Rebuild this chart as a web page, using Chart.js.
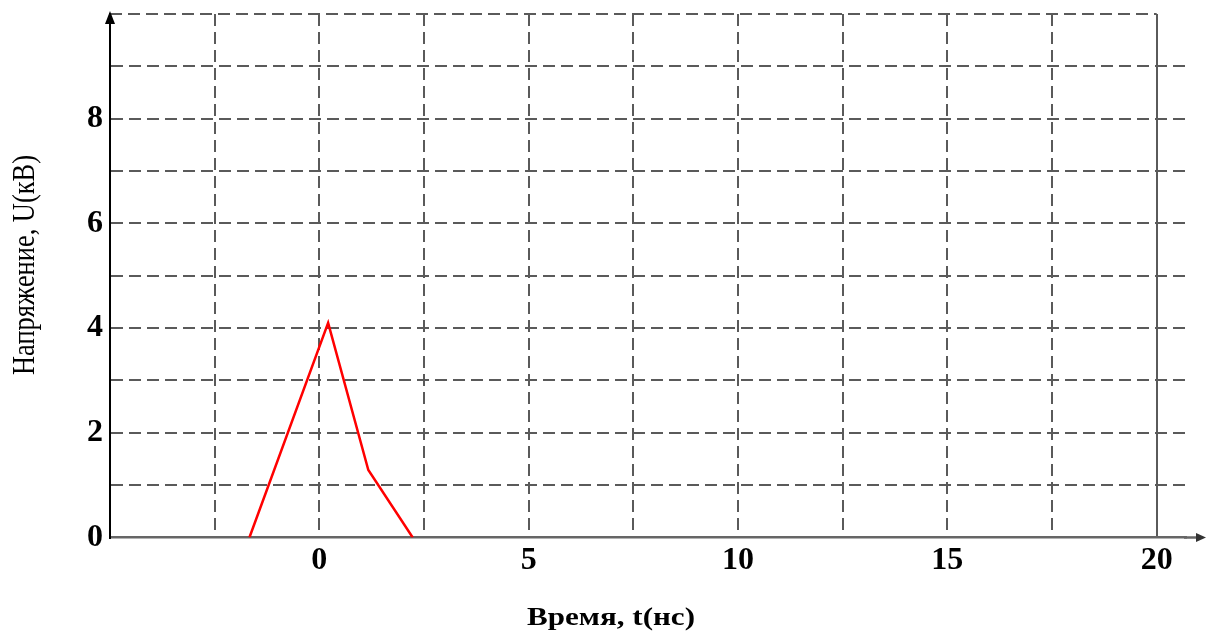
<!DOCTYPE html>
<html>
<head>
<meta charset="utf-8">
<script src="https://cdn.jsdelivr.net/npm/chart.js@4.4.1/dist/chart.umd.min.js"></script>
<style>
  html, body { margin: 0; padding: 0; background: #fff; }
  #wrap { width: 1206px; height: 639px; }
</style>
</head>
<body>
<div id="wrap"><canvas id="voltChart" width="1206" height="639"></canvas></div>
<script>
// pulse
const timeNs = [-1.67, 0.21, 1.17, 2.23];
const voltKV = [0, 4.1, 1.29, 0];

const xGrid = [-2.5, 0, 2.5, 5, 7.5, 10, 12.5, 15, 17.5, 20];
const xLabels = [0, 5, 10, 15, 20];
const yGrid = [0, 1, 2, 3, 4, 5, 6, 7, 8, 9, 10];
const yLabels = [0, 2, 4, 6, 8];

const xTitle = 'Время, t(нс)';
const yTitle = 'Напряжение, U(кВ)';

const gridGray = '#5a5a5a';
const dash = [12, 6];
const serif = '"Liberation Serif", "Times New Roman", serif';

// arrows on the axes, top grid line and axis titles
const axisExtras = {
    id: 'axisExtras',
    beforeDatasetsDraw(chart) {
        const { ctx, scales: { x, y } } = chart;
        const yTop = y.getPixelForValue(10);
        ctx.save();
        ctx.strokeStyle = gridGray;
        ctx.lineWidth = 2;
        ctx.setLineDash(dash);
        ctx.beginPath();
        ctx.moveTo(x.getPixelForValue(-5), yTop);
        ctx.lineTo(x.getPixelForValue(20), yTop);
        ctx.stroke();
        ctx.restore();
    },
    afterDraw(chart) {
        const { ctx, chartArea, scales: { x, y } } = chart;
        const y0 = y.getPixelForValue(0);
        const x0 = chartArea.left;

        ctx.save();
        // x axis runs on past the grid to an arrow
        ctx.strokeStyle = '#666';
        ctx.lineWidth = 2.5;
        ctx.beginPath();
        ctx.moveTo(chartArea.right - 2, y0);
        ctx.lineTo(1199, y0);
        ctx.stroke();
        ctx.fillStyle = '#333';
        ctx.beginPath();
        ctx.moveTo(1206, y0);
        ctx.lineTo(1196, y0 - 4.5);
        ctx.lineTo(1196, y0 + 4.5);
        ctx.closePath();
        ctx.fill();

        // y axis arrow
        ctx.fillStyle = '#000';
        ctx.beginPath();
        ctx.moveTo(x0, chartArea.top - 3);
        ctx.lineTo(x0 - 5, chartArea.top + 10);
        ctx.lineTo(x0 + 5, chartArea.top + 10);
        ctx.closePath();
        ctx.fill();

        // axis titles
        ctx.fillStyle = '#000';
        ctx.font = 'bold 26px ' + serif;
        ctx.textAlign = 'center';
        ctx.textBaseline = 'alphabetic';
        const wx = ctx.measureText(xTitle).width;
        ctx.save();
        ctx.translate(611, 625);
        ctx.scale(168 / wx, 1);
        ctx.fillText(xTitle, 0, 0);
        ctx.restore();

        ctx.font = '25px ' + serif;
        const wy = ctx.measureText(yTitle).width;
        ctx.save();
        ctx.translate(34, 265);
        ctx.rotate(-Math.PI / 2);
        ctx.scale(220 / wy, 1.25);
        ctx.fillText(yTitle, 0, 0);
        ctx.restore();

        ctx.restore();
    }
};

const ctx = document.getElementById('voltChart').getContext('2d');
const voltChart = new Chart(ctx, {
    type: 'line',
    data: {
        datasets: [{
            label: 'U',
            data: timeNs.map((t, i) => ({ x: t, y: voltKV[i] })),
            borderColor: '#ff0000',
            borderWidth: 2.5,
            pointRadius: 0,
            fill: false,
            tension: 0
        }]
    },
    options: {
        responsive: false,
        animation: false,
        devicePixelRatio: 1,
        layout: {
            autoPadding: false,
            padding: { left: 0, top: 14, right: 20, bottom: 0 }
        },
        plugins: {
            legend: { display: false },
            tooltip: { enabled: false }
        },
        scales: {
            x: {
                type: 'linear',
                min: -5,
                max: 20.7,
                afterBuildTicks: s => { s.ticks = xGrid.map(v => ({ value: v })); },
                afterFit: s => { s.height = 639 - 537.5; s.paddingLeft = 0; s.paddingRight = 0; },
                grid: {
                    drawTicks: false,
                    lineWidth: 2,
                    color: gridGray
                },
                border: {
                    color: '#666',
                    width: 2.5,
                    dash: c => (c.tick && c.tick.value === 20 ? [] : dash)
                },
                ticks: {
                    autoSkip: false,
                    maxRotation: 0,
                    padding: 7,
                    color: '#000',
                    font: { family: serif, size: 32, weight: 'bold', lineHeight: 1 },
                    callback: v => (xLabels.includes(v) ? String(v) : '')
                }
            },
            y: {
                min: 0,
                max: 10,
                afterBuildTicks: s => { s.ticks = yGrid.map(v => ({ value: v })); },
                afterFit: s => { s.width = 110; s.paddingTop = 0; s.paddingBottom = 0; },
                grid: {
                    drawTicks: false,
                    lineWidth: 2,
                    color: c => (c.tick && (c.tick.value === 0 || c.tick.value === 10) ? 'rgba(0,0,0,0)' : gridGray)
                },
                border: {
                    color: '#000',
                    width: 2,
                    dash: dash
                },
                ticks: {
                    autoSkip: false,
                    padding: 7,
                    color: '#000',
                    font: { family: serif, size: 32, weight: 'bold', lineHeight: 1 },
                    callback: v => (yLabels.includes(v) ? String(v) : '')
                }
            }
        }
    },
    plugins: [axisExtras]
});
</script>
</body>
</html>
